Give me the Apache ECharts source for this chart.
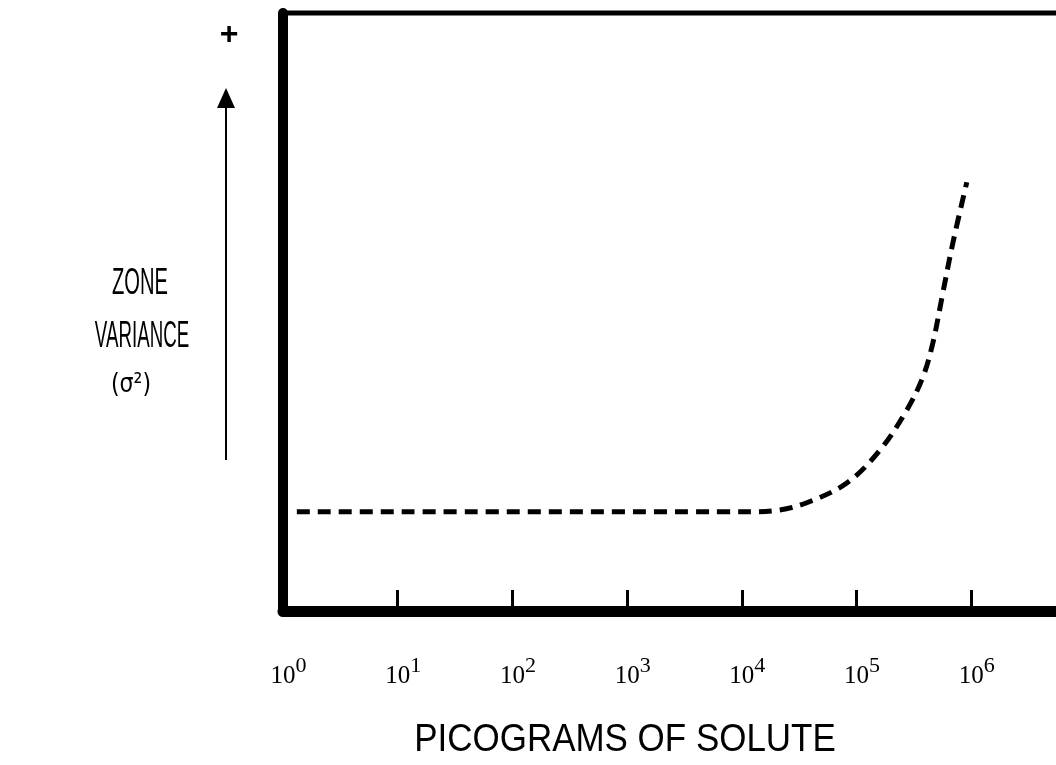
<!DOCTYPE html>
<html>
<head>
<meta charset="utf-8">
<script src="https://cdn.jsdelivr.net/npm/echarts@6/dist/echarts.min.js"></script>
<style>
  html, body { margin: 0; padding: 0; background: #fff; overflow: hidden; }
  #chart { width: 1100px; height: 765px; }
</style>
</head>
<body>
<div id="chart"></div>
<script>
// curve (x in picograms, y in arbitrary variance units 0..100)
const picograms = [1.32, 1.17e4, 2.14e4, 3.68e4, 8.22e4, 1.6e5, 2.74e5, 3.78e5, 4.62e5, 5.65e5, 6.9e5, 9.14e5];
const variance = [16.6, 16.6, 16.9, 18.1, 21.4, 26.9, 33.6, 39.1, 44.8, 53.2, 61.5, 71.7];

const xMin = 1;
const xMax = 1e7;

const chart = echarts.init(document.getElementById('chart'));

const option = {
  animation: false,
  backgroundColor: '#fff',
  grid: {
    left: 283,
    right: 14,
    top: 13,
    bottom: 154,
    outerBoundsMode: 'none',
    containLabel: false,
    show: true,
    borderColor: '#000',
    borderWidth: 5
  },
  xAxis: {
    type: 'log',
    logBase: 10,
    min: xMin,
    max: xMax,
    splitNumber: 7,
    axisLine: { show: true, lineStyle: { color: '#000', width: 11 } },
    axisTick: { show: true, inside: true, length: 21, lineStyle: { color: '#000', width: 3 } },
    splitLine: { show: false },
    minorTick: { show: false },
    axisLabel: {
      show: true,
      showMinLabel: true,
      showMaxLabel: false,
      margin: 44,
      formatter: function (v) {
        const e = Math.round(Math.log10(v));
        return '{p| }{b|10}{s|' + e + '}';
      },
      rich: {
        p: { width: 11, fontSize: 22, lineHeight: 22 },
        b: { fontFamily: 'Liberation Serif', fontSize: 25, lineHeight: 34, color: '#000', verticalAlign: 'bottom' },
        s: { fontFamily: 'Liberation Serif', fontSize: 22, lineHeight: 22, color: '#000', verticalAlign: 'top' }
      }
    }
  },
  yAxis: {
    type: 'value',
    min: 0,
    max: 100,
    axisLine: { show: true, lineStyle: { color: '#000', width: 10 } },
    axisTick: { show: false },
    axisLabel: { show: false },
    splitLine: { show: false }
  },
  graphic: [
    { type: 'text', x: 229, y: 35, style: { text: '+', font: 'bold 32px "Liberation Sans"', fill: '#000', align: 'center', verticalAlign: 'middle' } },
    { type: 'line', shape: { x1: 226, y1: 460, x2: 226, y2: 100 }, style: { stroke: '#000', lineWidth: 2 } },
    { type: 'polygon', shape: { points: [[217, 108], [235, 108], [226, 88]] }, style: { fill: '#000' } },
    { type: 'text', x: 140, y: 284, scaleX: 0.56, style: { text: 'ZONE', font: '36px "Liberation Sans"', fill: '#000', align: 'center', verticalAlign: 'middle' } },
    { type: 'text', x: 142, y: 337, scaleX: 0.52, style: { text: 'VARIANCE', font: '36px "Liberation Sans"', fill: '#000', align: 'center', verticalAlign: 'middle' } },
    { type: 'text', x: 131, y: 385, scaleX: 0.85, style: { text: '(σ²)', font: '26px "DejaVu Sans"', fill: '#000', align: 'center', verticalAlign: 'middle' } },
    { type: 'text', x: 625, y: 741, scaleX: 0.92, style: { text: 'PICOGRAMS OF SOLUTE', font: '38px "Liberation Sans"', fill: '#000', align: 'center', verticalAlign: 'middle' } }
  ],
  series: [
    {
      type: 'line',
      data: picograms.map((x, i) => [x, variance[i]]),
      showSymbol: false,
      smooth: 0.35,
      clip: false,
      lineStyle: { color: '#000', width: 5, type: [13, 8], cap: 'butt' }
    }
  ]
};

chart.setOption(option);
</script>
</body>
</html>
